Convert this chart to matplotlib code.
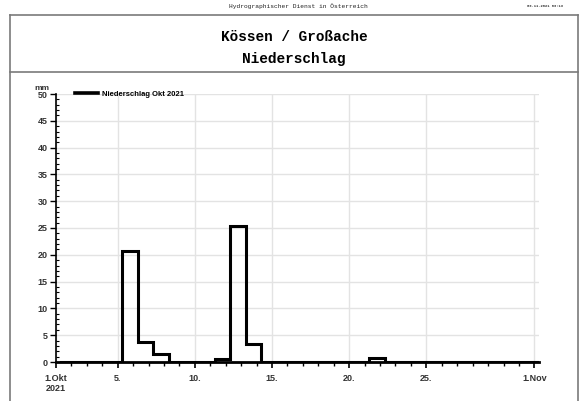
import matplotlib
matplotlib.use("Agg")
import matplotlib.pyplot as plt
from matplotlib.lines import Line2D
from matplotlib.ticker import MultipleLocator, FixedLocator
import numpy as np

# daily precipitation Oct 2021 (mm), measured 07:00 -> 07:00
days = np.arange(31)
precip = [0, 0, 0, 0, 20.8, 3.8, 1.4, 0, 0, 0,
          0.6, 25.4, 3.3, 0, 0, 0, 0, 0, 0, 0,
          0.8, 0, 0, 0, 0, 0, 0, 0, 0, 0, 0]
offset = 7 / 24.0

tick_pos = [0, 4, 9, 14, 19, 24, 31]
tick_lab = ["1.Okt\n2021", "5.", "10.", "15.", "20.", "25.", "1.Nov"]

header = "Hydrographischer Dienst in Österreich"
stamp = "09.11.2021 09:13"
station = "Kössen / Großache"
param = "Niederschlag"
series = "Niederschlag Okt 2021"

plt.rcParams["font.family"] = ["Liberation Sans", "DejaVu Sans"]

fig = plt.figure(figsize=(5.81, 4.01), dpi=100)
W, H = 581.0, 401.0

# frame around the sheet
frame_col = "#7a7a7a"
fig.add_artist(Line2D([10 / W, 10 / W], [0, 1 - 15 / H], color=frame_col, lw=1.2))
fig.add_artist(Line2D([578 / W, 578 / W], [0, 1 - 15 / H], color=frame_col, lw=1.2))
fig.add_artist(Line2D([10 / W, 578 / W], [1 - 15 / H, 1 - 15 / H], color=frame_col, lw=1.2))
fig.add_artist(Line2D([10 / W, 578 / W], [1 - 72 / H, 1 - 72 / H], color=frame_col, lw=1.2))

fig.text(298 / W, 1 - 6 / H, header, family="Liberation Mono", fontsize=4.5,
         ha="center", va="center", color="#222222")
fig.text(545 / W, 1 - 6 / H, stamp, family="Liberation Mono", fontsize=2.7,
         fontweight="bold", ha="center", va="center", color="#333333")
fig.text(294 / W, 1 - 37 / H, station, family="Liberation Mono", fontsize=10.4,
         fontweight="bold", ha="center", va="center")
fig.text(294 / W, 1 - 59 / H, param, family="Liberation Mono", fontsize=10.4,
         fontweight="bold", ha="center", va="center")

ax = fig.add_axes([56 / W, 1 - 362 / H, (539 - 56) / W, (362 - 94) / H])

# step line of daily sums
xs = np.append(days + offset, days[-1] + 1 + offset)
ys = np.append(precip, precip[-1])
ax.step(xs, ys, where="post", color="black", lw=2.2, zorder=3,
        solid_joinstyle="miter")

ax.set_xlim(0, 31.3)
ax.set_ylim(0, 50)

ax.xaxis.set_major_locator(FixedLocator(tick_pos))
ax.set_xticklabels(tick_lab)
ax.xaxis.set_minor_locator(FixedLocator(np.arange(0, 32)))
ax.yaxis.set_major_locator(MultipleLocator(5))
ax.yaxis.set_minor_locator(MultipleLocator(1))

ax.grid(True, which="major", color="#e3e3e3", lw=1.0, zorder=0)

for s in ["top", "right"]:
    ax.spines[s].set_visible(False)
ax.spines["left"].set_linewidth(1.2)
ax.spines["bottom"].set_linewidth(2.0)

ax.tick_params(axis="x", which="major", direction="out", length=4, width=1.2,
               labelsize=6.5, pad=4.5, colors="black", labelcolor="#333333")
ax.tick_params(axis="x", which="minor", direction="out", length=3, width=1.0)
ax.tick_params(axis="y", which="major", direction="out", length=4, width=1.0,
               labelsize=6.5, pad=2, labelcolor="#333333")
ax.tick_params(axis="y", which="minor", direction="in", length=2.5, width=0.8)
for lab in ax.get_xticklabels() + ax.get_yticklabels():
    lab.set_fontweight("bold")

ax.text(-0.029, 1.008, "mm", transform=ax.transAxes, fontsize=6, fontweight="bold",
        color="#333333", ha="center", va="bottom")

ax.legend([Line2D([0], [0], color="black", lw=2.6)], [series],
          loc="upper left", bbox_to_anchor=(0.034, 1.024), frameon=False,
          handlelength=3.0, handletextpad=0.5, borderaxespad=0,
          prop={"weight": "bold", "size": 5.5})

fig.savefig("out.png", dpi=100, facecolor="white")
